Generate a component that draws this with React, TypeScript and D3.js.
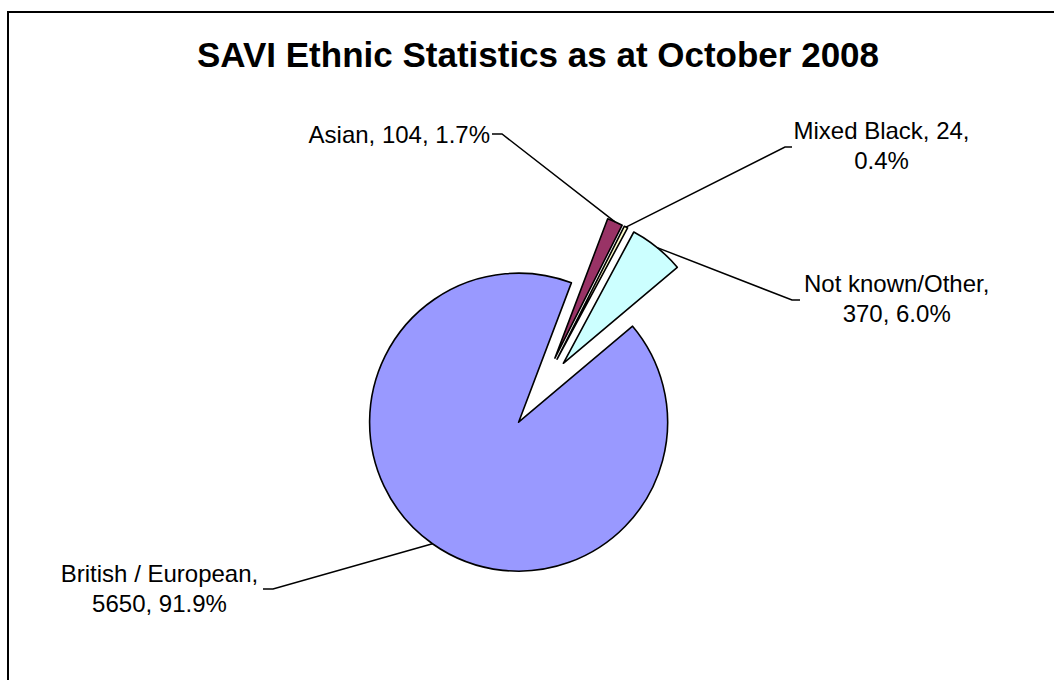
import React from "react";
import * as d3 from "d3";

// ---- data ----
const categories = ["British / European", "Asian", "Mixed Black", "Not known/Other"];
const values = [5650, 104, 24, 370];
const colors = ["#9999FF", "#993366", "#FFFFCC", "#CCFFFF"];
// where the label text wraps: 0 = single line, 1 = after name, 2 = after value
const lineBreaks = [1, 0, 2, 1];
const title = "SAVI Ethnic Statistics as at October 2008";

// ---- layout ----
const W = 1054;
const H = 680;
const CX = 540;
const CY = 392;
const R = 149;
const EXPLODE = 37;
const START_DEG = 49.9;
const FONT = "'Liberation Sans', Arial, Helvetica, sans-serif";

// label placement: anchor (x, baseline of first line), text-anchor, leader start (two points)
const labelLayout = [
  { x: 159.5, y: 582, anchor: "middle", lead: [[263, 589], [273, 589]] },
  { x: 490, y: 143, anchor: "end", lead: [[492, 134], [502, 134]] },
  { x: 881.5, y: 139, anchor: "middle", lead: [[792, 147], [785, 147]] },
  { x: 896.7, y: 292, anchor: "middle", lead: [[800, 300], [792, 300]] },
];
const LINE_H = 30;

export default function App() {
  const total = d3.sum(values);
  const start = (START_DEG * Math.PI) / 180;
  const pie = d3
    .pie<number>()
    .sort(null)
    .value((d) => d)
    .startAngle(start)
    .endAngle(start + 2 * Math.PI);
  const arcs = pie(values);
  const arcGen = d3.arc<d3.PieArcDatum<number>>().innerRadius(0).outerRadius(R);

  return (
    <svg
      width={W}
      height={H}
      style={{ position: "absolute", left: 0, top: 0, background: "#fff" }}
    >
      <rect x={8} y={12} width={1200} height={900} fill="#fff" stroke="#000" strokeWidth={2} />
      <text
        x={538}
        y={67}
        textAnchor="middle"
        fontFamily={FONT}
        fontWeight="bold"
        fontSize={35}
        fill="#000"
      >
        {title}
      </text>
      {arcs.map((a, i) => {
        const mid = (a.startAngle + a.endAngle) / 2;
        const ox = CX + EXPLODE * Math.sin(mid);
        const oy = CY - EXPLODE * Math.cos(mid);
        return (
          <path
            key={"s" + i}
            d={arcGen(a) || ""}
            transform={`translate(${ox},${oy})`}
            fill={colors[i]}
            stroke="#000"
            strokeWidth={1.6}
            strokeLinejoin="round"
          />
        );
      })}
      {arcs.map((a, i) => {
        const mid = (a.startAngle + a.endAngle) / 2;
        const ox = CX + EXPLODE * Math.sin(mid);
        const oy = CY - EXPLODE * Math.cos(mid);
        const px = ox + R * Math.sin(mid);
        const py = oy - R * Math.cos(mid);
        const L = labelLayout[i];
        const pts: [number, number][] = [L.lead[0] as [number, number], L.lead[1] as [number, number], [px, py]];
        const pct = ((values[i] / total) * 100).toFixed(1) + "%";
        const name = categories[i];
        const v = String(values[i]);
        let lines: string[];
        if (lineBreaks[i] === 0) lines = [`${name}, ${v}, ${pct}`];
        else if (lineBreaks[i] === 1) lines = [`${name},`, `${v}, ${pct}`];
        else lines = [`${name}, ${v},`, pct];
        return (
          <g key={"l" + i}>
            <path d={d3.line()(pts) || ""} fill="none" stroke="#000" strokeWidth={1.5} />
            <text
              textAnchor={L.anchor as any}
              fontFamily={FONT}
              fontSize={24}
              fill="#000"
            >
              {lines.map((t, j) => (
                <tspan key={j} x={L.x} y={L.y + j * LINE_H}>
                  {t}
                </tspan>
              ))}
            </text>
          </g>
        );
      })}
    </svg>
  );
}
